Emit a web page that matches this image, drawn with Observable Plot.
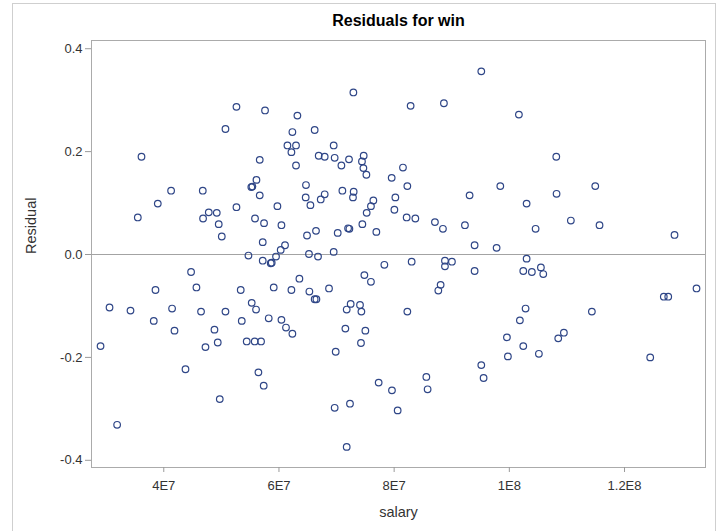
<!DOCTYPE html>
<html><head><meta charset="utf-8">
<script src="https://cdn.jsdelivr.net/npm/d3@7"></script>
<script src="https://cdn.jsdelivr.net/npm/@observablehq/plot@0.6"></script>
<style>
body{margin:0;background:#fff;font-family:"Liberation Sans",Arial,sans-serif;}
#wrap{position:relative;width:722px;height:531px;overflow:hidden;}
#border{position:absolute;left:12px;top:3px;width:702px;height:560px;border:1px solid #cfcfcf;pointer-events:none;}
</style></head><body>
<div id="wrap"><div id="border"></div></div>
<script>
const title = "Residuals for win";
const xLabel = "salary";
const yLabel = "Residual";
const salary = [
52.62e6,50.71e6,36.13e6,41.27e6,46.77e6,38.96e6,52.62e6,35.49e6,46.82e6,47.81e6,49.20e6,49.54e6,50.07e6,
29.02e6,30.58e6,31.90e6,34.22e6,38.56e6,38.26e6,41.44e6,41.86e6,44.74e6,45.67e6,43.77e6,46.47e6,50.71e6,48.80e6,47.24e6,49.37e6,49.72e6,53.36e6,53.54e6,
72.92e6,57.58e6,63.20e6,62.33e6,66.20e6,61.47e6,62.96e6,62.16e6,69.50e6,56.66e6,62.96e6,66.90e6,67.94e6,69.67e6,70.84e6,72.16e6,74.71e6,74.41e6,74.66e6,75.18e6,79.57e6,56.09e6,55.39e6,55.2e6,56.66e6,64.69e6,64.64e6,65.46e6,67.94e6,67.25e6,71.01e6,72.97e6,72.85e6,76.39e6,75.97e6,75.23e6,80.21e6,80.04e6,59.73e6,55.84e6,57.41e6,60.43e6,64.87e6,66.43e6,70.20e6,72.23e6,72.0e6,74.48e6,76.91e6,57.18e6,61.05e6,60.30e6,
59.49e6,54.70e6,57.18e6,58.74e6,58.57e6,65.21e6,66.78e6,69.50e6,78.30e6,74.83e6,75.97e6,63.55e6,59.09e6,62.16e6,65.28e6,68.69e6,66.20e6,66.50e6,55.27e6,56.02e6,58.22e6,60.43e6,61.22e6,62.33e6,54.40e6,55.79e6,56.89e6,72.45e6,71.76e6,74.07e6,74.31e6,71.53e6,75.00e6,74.24e6,69.85e6,56.43e6,57.35e6,77.31e6,79.62e6,80.61e6,69.67e6,72.33e6,71.76e6,
95.13e6,82.86e6,88.64e6,101.66e6,81.53e6,82.29e6,93.10e6,98.43e6,103.00e6,82.17e6,83.68e6,87.08e6,88.47e6,92.29e6,104.56e6,93.97e6,97.79e6,
83.04e6,88.82e6,90.03e6,88.82e6,93.97e6,103.00e6,102.42e6,103.91e6,105.48e6,105.89e6,88.07e6,87.67e6,82.29e6,102.82e6,101.83e6,99.58e6,102.42e6,99.75e6,105.13e6,95.13e6,95.53e6,85.59e6,85.81e6,
108.15e6,108.20e6,114.92e6,110.68e6,115.66e6,128.68e6,
132.50e6,126.82e6,127.59e6,114.33e6,108.49e6,109.47e6,124.46e6
];
const residual = [
0.287,0.244,0.190,0.124,0.124,0.099,0.092,0.072,0.070,0.082,0.081,0.059,0.035,
-0.178,-0.103,-0.331,-0.109,-0.069,-0.129,-0.105,-0.148,-0.034,-0.064,-0.223,-0.111,-0.111,-0.146,-0.180,-0.171,-0.281,-0.069,-0.129,
0.315,0.280,0.270,0.238,0.242,0.212,0.212,0.199,0.212,0.184,0.173,0.192,0.190,0.188,0.173,0.185,0.192,0.181,0.168,0.155,0.149,0.145,0.132,0.131,0.115,0.135,0.111,0.096,0.117,0.107,0.124,0.122,0.111,0.105,0.094,0.081,0.111,0.087,0.094,0.070,0.061,0.057,0.037,0.046,0.042,0.050,0.051,0.059,0.044,0.024,0.018,0.009,
-0.004,-0.002,-0.012,-0.016,-0.017,0.001,-0.004,0.005,-0.020,-0.040,-0.053,-0.047,-0.064,-0.069,-0.072,-0.066,-0.087,-0.087,-0.094,-0.107,-0.124,-0.127,-0.142,-0.154,-0.169,-0.169,-0.169,-0.096,-0.107,-0.098,-0.111,-0.144,-0.148,-0.172,-0.189,-0.229,-0.255,-0.249,-0.264,-0.303,-0.298,-0.290,-0.374,
0.356,0.289,0.294,0.272,0.169,0.133,0.115,0.133,0.099,0.072,0.070,0.063,0.050,0.057,0.050,0.018,0.013,
-0.014,-0.012,-0.014,-0.023,-0.032,-0.008,-0.032,-0.034,-0.025,-0.038,-0.059,-0.070,-0.111,-0.105,-0.128,-0.161,-0.178,-0.198,-0.193,-0.215,-0.240,-0.238,-0.262,
0.190,0.118,0.133,0.066,0.057,0.038,
-0.066,-0.082,-0.082,-0.111,-0.163,-0.152,-0.200
];
const xTicks = [4e7, 6e7, 8e7, 1e8, 1.2e8];
const xTickLabels = ["4E7", "6E7", "8E7", "1E8", "1.2E8"];
const yTicks = [-0.4, -0.2, 0, 0.2, 0.4];
const yTickLabels = ["-0.4", "-0.2", "0.0", "0.2", "0.4"];
const xDomain = [27.45e6, 134.06e6];
const yDomain = [-0.414, 0.416];

const data = salary.map((s, i) => ({salary: s, residual: residual[i]}));

const chart = Plot.plot({
  width: 722,
  height: 531,
  marginLeft: 91,
  marginRight: 17,
  marginTop: 40,
  marginBottom: 64,
  style: {fontFamily: "'Liberation Sans', Arial, sans-serif", fontSize: "13px", color: "#333", background: "transparent"},
  x: {domain: xDomain},
  y: {domain: yDomain},
  marks: [
    Plot.frame({stroke: "#ababab"}),
    Plot.ruleY([0], {stroke: "#a3a3a3"}),
    Plot.axisX({ticks: xTicks, tickFormat: d => xTickLabels[xTicks.indexOf(d)], tickSize: 5, tickPadding: 8, stroke: "#9a9a9a", fill: "#333", fontSize: 13, label: null}),
    Plot.axisY({ticks: yTicks, tickFormat: d => yTickLabels[yTicks.indexOf(d)], tickSize: 6, tickPadding: 3, stroke: "#9a9a9a", fill: "#333", fontSize: 13, label: null}),
    Plot.dot(data, {x: "salary", y: "residual", r: 3.3, stroke: "#2f4687", strokeWidth: 1.2, fill: "none"}),
    Plot.text([title], {frameAnchor: "top", dy: -20, lineAnchor: "middle", fontWeight: "bold", fontSize: 16, fill: "#000"}),
    Plot.text([xLabel], {frameAnchor: "bottom", dy: 45, lineAnchor: "middle", fontSize: 14.5, fill: "#333"}),
    Plot.text([yLabel], {frameAnchor: "left", dx: -60, rotate: -90, lineAnchor: "middle", fontSize: 14.5, fill: "#333"})
  ]
});
document.getElementById("wrap").prepend(chart);
</script>
</body></html>
